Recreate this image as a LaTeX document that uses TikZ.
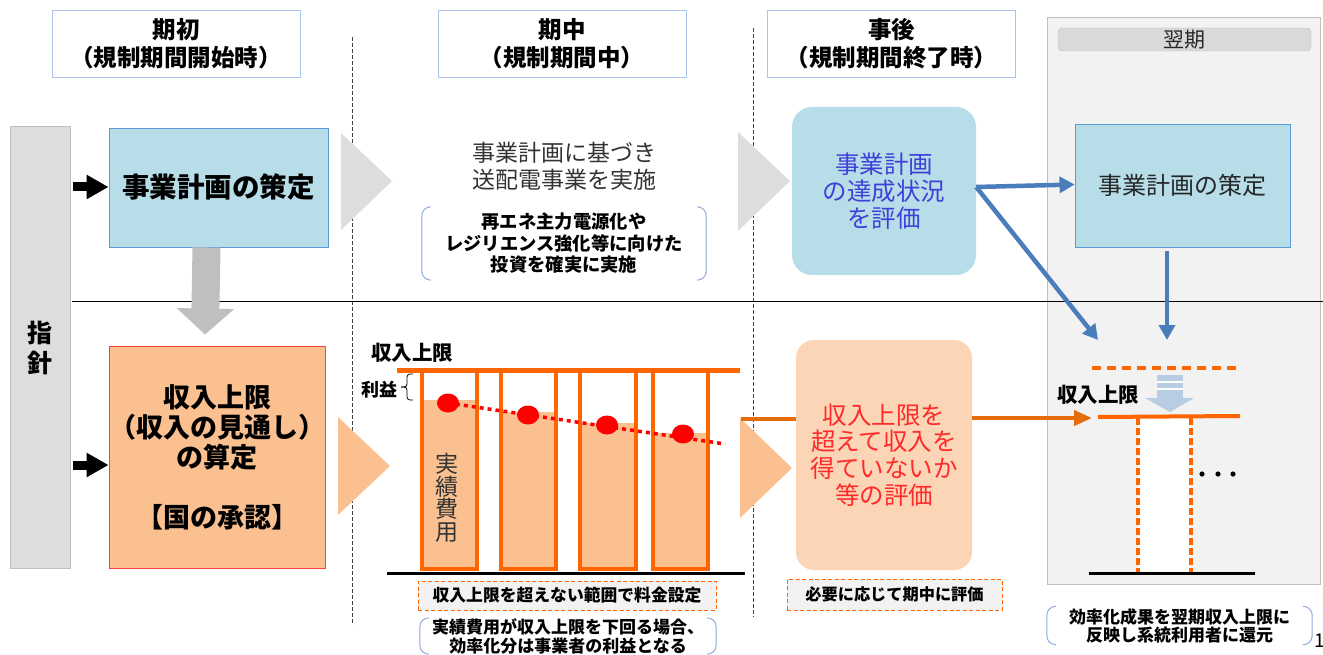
\documentclass[tikz,border=0pt]{standalone}
\usepackage{fontspec}
\setmainfont{Noto Sans CJK JP}
\usetikzlibrary{arrows.meta}
\definecolor{hdrb}{HTML}{A9C4EB}
\definecolor{boxblue}{HTML}{B7DDE8}
\definecolor{boxblueb}{HTML}{5B9BD5}
\definecolor{peach}{HTML}{FAC090}
\definecolor{lpeach}{HTML}{FBD5B5}
\definecolor{redb}{HTML}{FF4040}
\definecolor{obar}{HTML}{FF6600}
\definecolor{oconn}{HTML}{E46C0A}
\definecolor{barrow}{HTML}{4A7EBB}
\definecolor{tri}{HTML}{DDDDDD}
\definecolor{garrow}{HTML}{BFBFBF}
\definecolor{lbar}{HTML}{DDDDDD}
\definecolor{lbarb}{HTML}{BFBFBF}
\definecolor{panel}{HTML}{F2F2F2}
\definecolor{panelb}{HTML}{BFBFBF}
\definecolor{tblue}{HTML}{4040D8}
\definecolor{tred}{HTML}{FF2A2A}
\definecolor{dotred}{HTML}{FF0000}
\definecolor{lbarrow}{HTML}{B8CCE4}
\definecolor{brk}{HTML}{8EA9DB}
\definecolor{dashgray}{HTML}{404040}
\definecolor{fillgray}{HTML}{F2F2F2}
\definecolor{hdrbar}{HTML}{D9D9D9}
\newcommand\bracketsides[1]{%
  \draw[brk, line width=1pt, rounded corners=9pt]
    ([xshift=9pt]#1.north west) -- (#1.north west) -- (#1.south west) -- ([xshift=9pt]#1.south west);
  \draw[brk, line width=1pt, rounded corners=9pt]
    ([xshift=-9pt]#1.north east) -- (#1.north east) -- (#1.south east) -- ([xshift=-9pt]#1.south east);}
\tikzset{
  hdr/.style={draw=hdrb, fill=white, line width=0.9pt, minimum width=248pt, minimum height=67pt,
    inner sep=0pt, align=center, font=\bfseries\fontsize{23.5}{28}\selectfont},
  planbox/.style={draw=boxblueb, fill=boxblue, line width=0.9pt, inner sep=0pt, align=center},
  notebox/.style={draw=obar, fill=fillgray, dash pattern=on 4pt off 2.5pt, line width=0.9pt,
    inner sep=0pt, align=center, font=\bfseries\fontsize{16.8}{19}\selectfont},
  brkbox/.style={inner sep=0pt, align=center, font=\bfseries\fontsize{17}{19}\selectfont},
  bluearrow/.style={draw=barrow, line width=4.5pt, -{Triangle[length=15pt,width=16pt]}},
  blackarrow/.style={draw=black, line width=9pt, -{Triangle[length=22pt,width=23pt]}},
  orangearrow/.style={draw=oconn, line width=4pt, -{Triangle[length=18pt,width=15pt]}},
  sepline/.style={draw=dashgray, line width=0.9pt, dash pattern=on 4pt off 2pt},
  barline/.style={draw=obar, line width=4.5pt},
}
\begin{document}
\begin{tikzpicture}[x=1pt,y=-1pt]
\useasboundingbox (0,0) rectangle (1323,655);
% next period panel
\draw[fill=panel, draw=panelb, line width=0.9pt] (1047,17) rectangle (1320,584);
\node[draw=lbarb, fill=hdrbar, rounded corners=4pt, minimum width=253pt, minimum height=23pt, inner sep=0pt,
  font=\fontsize{21}{24}\selectfont, text=black!85] (nhdr) at (1184.5,39.5) {翌期};
% separators
\draw[sepline] (352,37) -- (352,625);
\draw[sepline] (753,28) -- (753,617);
\draw[black, line width=0.9pt] (72,301) -- (1323,301);
% headers
\node[hdr] (h1) at (176,43.5) {期初\\（規制期間開始時）};
\node[hdr] (h2) at (562,43.5) {期中\\（規制期間中）};
\node[hdr] (h3) at (891.5,43.5) {事後\\（規制期間終了時）};
% left guideline bar
\node[draw=lbarb, fill=lbar, line width=0.9pt, minimum width=60pt, minimum height=442pt, inner sep=0pt] (guide) at (40,347) {};
\node[font=\bfseries\fontsize{25}{30}\selectfont, align=center] (guidet) at (40,348) {指\\針};
% first-column boxes
\node[planbox, minimum width=219pt, minimum height=119pt, font=\bfseries\fontsize{27.5}{30}\selectfont] (A) at (218.5,187.5) {事業計画の策定};
\node[draw=redb, fill=peach, line width=0.9pt, minimum width=216pt, minimum height=222pt, inner sep=0pt, align=center,
  font=\bfseries\fontsize{27}{30}\selectfont] (B) at (217,457) {収入上限\\（収入の見通し）\\の算定\\[30pt]【国の承認】};
\coordinate (bl1) at (73,187);
\coordinate (bl2) at (73,465);
\draw[blackarrow] (bl1) -- (bl1 -| A.west);
\draw[blackarrow] (bl2) -- (bl2 -| B.west);
\draw[draw=garrow, line width=28pt, -{Triangle[length=26pt,width=56pt]}] ([xshift=-12pt]A.south) -- ([xshift=-12pt,yshift=11pt]B.north);
% process triangles
\fill[tri] (341,133) -- (392,181) -- (341,230) -- cycle;
\fill[tri] (738,132) -- (790,181) -- (738,231) -- cycle;
\fill[peach] (338,417) -- (390,466) -- (338,515) -- cycle;
\fill[peach] (740,418) -- (792,468) -- (740,518) -- cycle;
% middle column top
\node[font=\fontsize{23}{27}\selectfont, align=center, text=black!80] (mid) at (564,166) {事業計画に基づき\\送配電事業を実施};
\node[brkbox, minimum width=284pt, minimum height=73pt, font=\bfseries\fontsize{18.3}{21.5}\selectfont] (inv) at (564,243.5)
  {再エネ主力電源化や\\レジリエンス強化等に向けた\\投資を確実に実施};
\bracketsides{inv}
% evaluation box
\node[fill=boxblue, rounded corners=20pt, minimum width=184pt, minimum height=168pt, inner sep=0pt, align=center,
  text=tblue, font=\fontsize{24.5}{27}\selectfont] (C) at (884,191) {事業計画\\の達成状況\\を評価};
% next plan box
\node[planbox, minimum width=215pt, minimum height=123pt, font=\fontsize{24}{27}\selectfont, text=black!85] (D) at (1182.5,185.5) {事業計画の策定};
\coordinate (tipA) at (1098,340);
\coordinate (tipB) at (1167,340);
\draw[bluearrow] ([yshift=4pt]C.east) -- ([yshift=1pt]D.west);
\draw[bluearrow] ([yshift=4pt]C.east) -- (tipA);
\draw[bluearrow] ([xshift=-15.5pt,yshift=-4pt]D.south) -- (tipB);
% middle chart
\fill[peach] (422,400) rectangle (477,569);
\fill[peach] (501,412) rectangle (556,569);
\fill[peach] (580,423) rectangle (636,569);
\fill[peach] (653,433) rectangle (708,569);
\draw[barline] (422,371) rectangle (477,569);
\draw[barline] (501,371) rectangle (556,569);
\draw[barline] (580,371) rectangle (636,569);
\draw[barline] (653,371) rectangle (708,569);
\draw[draw=obar, line width=5pt] (397,370) -- (740,370);
\draw[black, line width=3pt] (387,573) -- (745,573);
\node[font=\bfseries\fontsize{20.5}{24}\selectfont] (capL) at (412,353) {収入上限};
\node[font=\bfseries\fontsize{18}{22}\selectfont] (profit) at (379,390) {利益};
\draw[black, line width=0.8pt, rounded corners=3pt] (413,374) -- (407,374) -- (407,387) -- (401,387);
\draw[black, line width=0.8pt, rounded corners=3pt] (401,387) -- (407,387) -- (407,400) -- (413,400);
\draw[dotred, line width=3.5pt, dash pattern=on 4pt off 4pt] (448,403) -- (725,444);
\fill[dotred] (448,403) ellipse [x radius=11pt, y radius=9.5pt];
\fill[dotred] (528,415) ellipse [x radius=11pt, y radius=9.5pt];
\fill[dotred] (607,425) ellipse [x radius=11pt, y radius=9.5pt];
\fill[dotred] (683,434) ellipse [x radius=11pt, y radius=9.5pt];
\node[font=\fontsize{23}{22.5}\selectfont, align=center, text=black!80] (cost) at (447,498) {実\\績\\費\\用};
\node[notebox, minimum width=298pt, minimum height=29pt] (n1) at (567,595.5) {収入上限を超えない範囲で料金設定};
\node[brkbox, minimum width=296pt, minimum height=36pt] (n2) at (568,636) {実績費用が収入上限を下回る場合、\\効率化分は事業者の利益となる};
\bracketsides{n2}
% revenue evaluation box
\node[fill=lpeach, rounded corners=18pt, minimum width=176pt, minimum height=230pt, inner sep=0pt, align=center,
  text=tred, font=\fontsize{24.5}{26.7}\selectfont] (E) at (884,455) {収入上限を\\超えて収入を\\得ていないか\\等の評価};
\coordinate (oL) at (741,419);
\coordinate (oR) at (1092,418);
\draw[draw=oconn, line width=4pt] (oL) -- (oL -| E.west);
\draw[orangearrow] (oR -| E.east) -- (oR);
\node[notebox, minimum width=215pt, minimum height=31pt, font=\bfseries\fontsize{16.2}{19}\selectfont] (n3) at (894.5,594.5) {必要に応じて期中に評価};
% next period chart
\draw[draw=obar, line width=4pt, dash pattern=on 9pt off 6pt] (1092,368) -- (1240,368);
\fill[lbarrow] (1157,375) rectangle (1183,399);
\fill[lbarrow] (1145,398) -- (1194,398) -- (1170,412) -- cycle;
\draw[white, line width=1.3pt] (1157,382) -- (1183,382);
\draw[white, line width=1.3pt] (1157,389) -- (1183,389);
\node[font=\bfseries\fontsize{20.5}{24}\selectfont] (capN) at (1098,395) {収入上限};
\fill[white] (1138,418) rectangle (1191,572);
\draw[draw=obar, line width=3.5pt, dash pattern=on 7pt off 3pt] (1138,418) -- (1138,572);
\draw[draw=obar, line width=3.5pt, dash pattern=on 7pt off 3pt] (1191,418) -- (1191,572);
\draw[draw=obar, line width=4pt] (1098,417) -- (1240,416);
\draw[black, line width=3pt] (1089,573) -- (1255,573);
\fill[black] (1202,474) circle (2.6pt);
\fill[black] (1218,474) circle (2.6pt);
\fill[black] (1233,474) circle (2.6pt);
\node[brkbox, minimum width=265pt, minimum height=38pt, font=\bfseries\fontsize{17}{18}\selectfont] (n4) at (1179.5,625.5)
  {効率化成果を翌期収入上限に\\反映し系統利用者に還元};
\bracketsides{n4}
\node[anchor=west, inner sep=0pt, font=\fontsize{19}{22}\selectfont] (pg) at (1314,641) {1};
\end{tikzpicture}
\end{document}
